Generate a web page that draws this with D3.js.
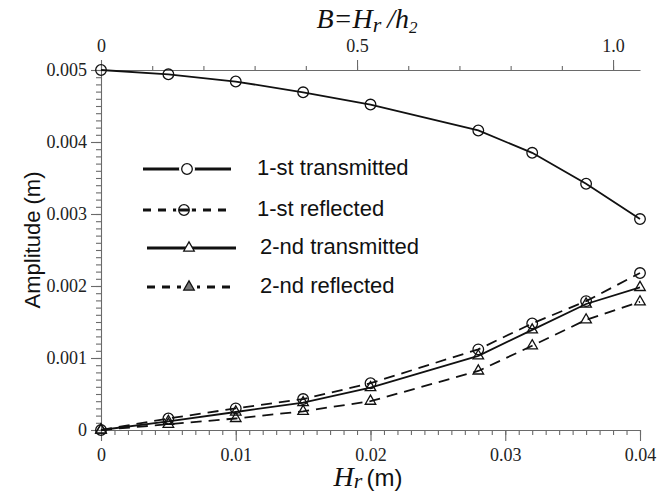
<!DOCTYPE html>
<html>
<head>
<meta charset="utf-8">
<script src="https://cdn.jsdelivr.net/npm/d3@7"></script>
<style>
  html, body { margin: 0; padding: 0; background: #fff; }
  svg { display: block; }
</style>
</head>
<body>
<svg id="chart" width="670" height="496"></svg>
<script>
// Rib height H_r (m) at each computed case
const hr = [0, 0.005, 0.01, 0.015, 0.02, 0.028, 0.032, 0.036, 0.04];
// Wave amplitudes (m)
const trans1 = [0.005, 0.00494, 0.00484, 0.00469, 0.00452, 0.00416, 0.00385, 0.00342, 0.00293];
const refl1  = [0, 0.00016, 0.00030, 0.00043, 0.00065, 0.00112, 0.00148, 0.00179, 0.00218];
const trans2 = [0, 0.00012, 0.00025, 0.00038, 0.00059, 0.00103, 0.00139, 0.00175, 0.00198];
const refl2  = [0, 0.00008, 0.00016, 0.00026, 0.00040, 0.00082, 0.00117, 0.00153, 0.00178];
// Axis ticks
const xTicks = [0, 0.01, 0.02, 0.03, 0.04];
const yTicks = [0, 0.001, 0.002, 0.003, 0.004, 0.005];
const bTicks = [0, 0.5, 1.0];
const h2 = 0.038; // depth used for the relative height B = H_r / h2

const seriesNames = ["1-st transmitted", "1-st reflected", "2-nd transmitted", "2-nd reflected"];
const seriesValues = [trans1, refl1, trans2, refl2];
const seriesMarker = ["circle", "circle", "triangle", "triangle"];
const seriesDashed = [false, true, false, true];

const SERIF = '"Liberation Serif", "Times New Roman", serif';
const SANS = '"Liberation Sans", Arial, sans-serif';

const svg = d3.select("#chart");
const plotLeft = 101, plotRight = 640, plotTop = 70, plotBottom = 430;

const x = d3.scaleLinear().domain([0, 0.04]).range([plotLeft, plotRight]);
const xb = d3.scaleLinear().domain([0, 0.04 / h2]).range([plotLeft, plotRight]);
const y = d3.scaleLinear().domain([0, 0.005]).range([plotBottom, plotTop]);

const axisColor = "#6a6a6a";

function styleAxis(g) {
  g.attr("font-family", SERIF).attr("font-size", 18);
  g.selectAll("path, line").attr("stroke", axisColor).attr("stroke-width", 1.1);
  g.selectAll("text").style("font-family", SERIF).style("font-size", "18px").attr("fill", "#222");
}

// bottom axis: minor then major
const xMinor = d3.range(0, 0.04001, 0.001);
svg.append("g").attr("transform", `translate(0,${plotBottom})`)
  .call(d3.axisBottom(x).tickValues(xMinor).tickSize(5).tickFormat("").tickSizeOuter(0))
  .call(styleAxis);
svg.append("g").attr("transform", `translate(0,${plotBottom})`)
  .call(d3.axisBottom(x).tickValues(xTicks).tickSize(11).tickPadding(7).tickSizeOuter(0)
        .tickFormat(d => d === 0 ? "0" : d3.format(".2f")(d)))
  .call(styleAxis)
  .call(g => g.select(".domain").remove());

// left axis
const yMinor = d3.range(0, 0.005001, 0.0001);
svg.append("g").attr("transform", `translate(${plotLeft},0)`)
  .call(d3.axisLeft(y).tickValues(yMinor).tickSize(5).tickFormat("").tickSizeOuter(0))
  .call(styleAxis);
svg.append("g").attr("transform", `translate(${plotLeft},0)`)
  .call(d3.axisLeft(y).tickValues(yTicks).tickSize(10).tickPadding(4).tickSizeOuter(0)
        .tickFormat(d => d === 0 ? "0" : d3.format(".3f")(d)))
  .call(styleAxis)
  .call(g => g.select(".domain").remove());

// top axis in relative height B
const bMinor = d3.range(0, 1.0001, 0.1);
svg.append("g").attr("transform", `translate(0,${plotTop})`)
  .call(d3.axisTop(xb).tickValues(bMinor).tickSize(4).tickFormat("").tickSizeOuter(0))
  .call(styleAxis);
svg.append("g").attr("transform", `translate(0,${plotTop})`)
  .call(d3.axisTop(xb).tickValues(bTicks).tickSize(10).tickPadding(8).tickSizeOuter(0)
        .tickFormat(d => d === 0 ? "0" : d3.format(".1f")(d)))
  .call(styleAxis)
  .call(g => g.select(".domain").remove());

// titles
svg.append("text").style("font-family", SANS).attr("font-size", 22).attr("fill", "#111")
  .attr("text-anchor", "middle")
  .attr("transform", "translate(40,240) rotate(-90)")
  .text("Amplitude (m)");

const xt = svg.append("text").attr("x", 368).attr("y", 486).attr("text-anchor", "middle").attr("fill", "#111");
xt.append("tspan").style("font-family", SERIF).attr("font-style", "italic").attr("font-size", 28).text("H");
xt.append("tspan").style("font-family", SERIF).attr("font-style", "italic").attr("font-size", 22).attr("dy", 2).text("r");
xt.append("tspan").style("font-family", SANS).attr("font-size", 24).attr("dy", -2).attr("dx", 4).text("(m)");

const bt = svg.append("text").attr("x", 367).attr("y", 28).attr("text-anchor", "middle")
  .style("font-family", SERIF).attr("font-style", "italic").attr("fill", "#111");
bt.append("tspan").attr("font-size", 28).text("B=H");
bt.append("tspan").attr("font-size", 22).attr("dy", 4).text("r");
bt.append("tspan").attr("font-size", 28).attr("dy", -4).attr("dx", 6).text("/h");
bt.append("tspan").attr("font-size", 17).attr("dy", 5).text("2");

// markers
const triPath = d3.symbol().type(d3.symbolTriangle).size(48);
function drawMarker(g, type, cx, cy, fill) {
  if (type === "circle") {
    g.append("circle").attr("cx", cx).attr("cy", cy).attr("r", 5.3)
      .attr("fill", fill).attr("stroke", "#111").attr("stroke-width", 1.3);
  } else {
    g.append("path").attr("d", triPath()).attr("transform", `translate(${cx},${cy})`)
      .attr("fill", fill).attr("stroke", "#111").attr("stroke-width", 1.3);
  }
}

// series
const line = d3.line().x(d => x(d[0])).y(d => y(d[1]));
seriesValues.forEach((vals, i) => {
  const pts = hr.map((h, k) => [h, vals[k]]);
  svg.append("path").datum(pts).attr("d", line).attr("fill", "none")
    .attr("stroke", "#111").attr("stroke-width", 1.8)
    .attr("stroke-dasharray", seriesDashed[i] ? "11,7" : null);
  const mg = svg.append("g");
  pts.forEach(p => drawMarker(mg, seriesMarker[i], x(p[0]), y(p[1]), "none"));
});

// legend
const legRows = [169, 210, 248, 287];
const legLine = [[143, 231, 187], [143, 227, 184], [147, 236, 189], [147, 230, 189]];
const legText = [257, 257, 260, 260];
seriesNames.forEach((name, i) => {
  const g = svg.append("g");
  const ry = legRows[i];
  g.append("line").attr("x1", legLine[i][0]).attr("x2", legLine[i][1])
    .attr("y1", ry).attr("y2", ry).attr("stroke", "#111").attr("stroke-width", 3)
    .attr("stroke-dasharray", seriesDashed[i] ? "8,7" : null);
  const cx = legLine[i][2];
  if (seriesMarker[i] === "circle") {
    g.append("circle").attr("cx", cx).attr("cy", ry).attr("r", 6.5)
      .attr("fill", "#fff").attr("stroke", "#fff").attr("stroke-width", 3);
    drawMarker(g, "circle", cx, ry, "#fff");
    if (seriesDashed[i]) {
      g.append("line").attr("x1", cx - 5).attr("x2", cx + 5).attr("y1", ry).attr("y2", ry)
        .attr("stroke", "#111").attr("stroke-width", 3);
    }
  } else {
    if (seriesDashed[i]) {
      g.append("rect").attr("x", cx - 8).attr("y", ry - 6).attr("width", 16).attr("height", 12).attr("fill", "#fff");
    }
    drawMarker(g, "triangle", cx, ry, seriesDashed[i] ? "#777" : "#fff");
  }
  g.append("text").style("font-family", SANS).attr("x", legText[i]).attr("y", ry + 6)
    .attr("font-size", 22).attr("fill", "#111").text(name);
});
</script>
</body>
</html>
